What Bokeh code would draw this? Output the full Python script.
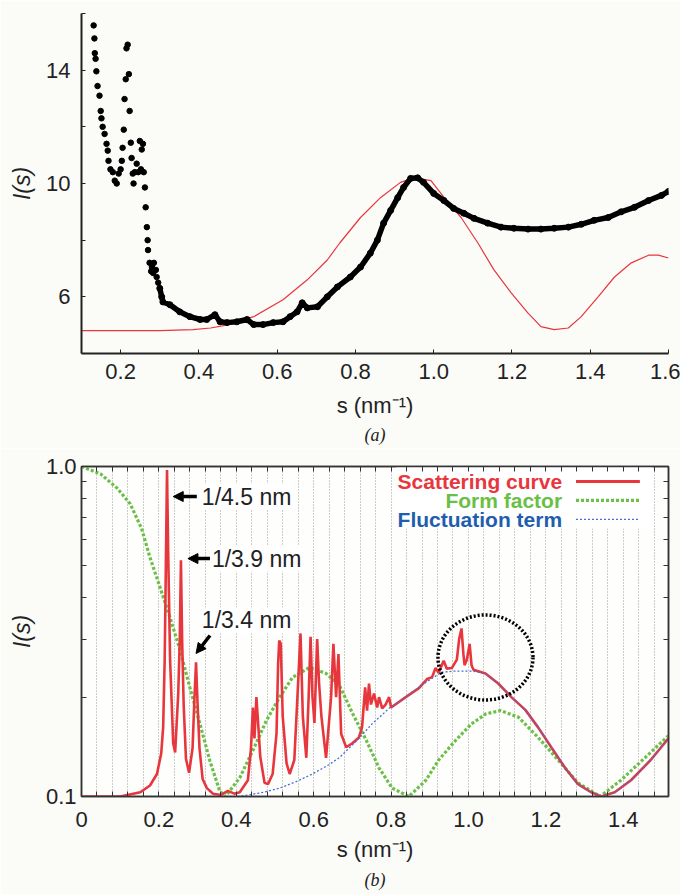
import math
from bokeh.plotting import figure
from bokeh.layouts import column
from bokeh.models import (Range1d, FixedTicker, CustomJSTickFormatter, LinearAxis, LogAxis,
                          Label, Arrow, NormalHead, Title)
from bokeh.embed import file_html
from bokeh.resources import INLINE

# ---------------- panel (a) data ----------------
exp_sparse_s = [0.131, 0.133, 0.134, 0.136, 0.138, 0.141, 0.146, 0.149, 0.151, 0.154, 0.159, 0.164,
                0.167, 0.169, 0.174, 0.18, 0.185, 0.19, 0.195, 0.2, 0.203, 0.205, 0.208, 0.21, 0.213,
                0.215, 0.218, 0.221, 0.223, 0.226, 0.228, 0.231, 0.233, 0.236, 0.241, 0.245, 0.249,
                0.252, 0.254, 0.257, 0.259, 0.262, 0.264, 0.267, 0.269, 0.27, 0.274, 0.278, 0.28,
                0.283, 0.285, 0.29, 0.292, 0.296]
exp_sparse_I = [15.58, 15.12, 14.6, 14.4, 13.96, 13.44, 13.1, 12.56, 12.3, 12.0, 11.75, 11.4,
                11.16, 10.8, 10.5, 10.4, 10.1, 10.0, 10.35, 10.5, 10.8, 11.26, 11.9, 12.98, 13.68,
                14.77, 14.9, 13.86, 12.56, 11.44, 10.9, 10.35, 10.0, 10.4, 10.7, 10.4, 11.5,
                10.5, 11.2, 11.4, 10.4, 9.86, 9.16, 8.46, 8.0, 7.65, 7.2, 6.9, 7.05,
                6.84, 7.2, 6.95, 6.7, 6.5]
exp_dense_s = [0.3, 0.305, 0.308, 0.326, 0.351, 0.377, 0.403, 0.42, 0.441, 0.454, 0.472, 0.497,
               0.523, 0.54, 0.564, 0.59, 0.615, 0.633, 0.651, 0.664, 0.677, 0.703, 0.728, 0.754,
               0.787, 0.813, 0.838, 0.856, 0.872, 0.89, 0.908, 0.923, 0.941, 0.959, 0.974, 1.0,
               1.026, 1.051, 1.077, 1.103, 1.138, 1.172, 1.205, 1.241, 1.274, 1.308, 1.344, 1.377,
               1.41, 1.446, 1.479, 1.513, 1.549, 1.582, 1.6]
exp_dense_I = [6.3, 6.0, 5.82, 5.72, 5.47, 5.3, 5.2, 5.2, 5.37, 5.12, 5.09, 5.12,
               5.2, 5.02, 5.02, 5.09, 5.12, 5.3, 5.47, 5.79, 5.61, 5.65, 6.0, 6.35,
               6.7, 7.05, 7.54, 8.0, 8.6, 9.05, 9.5, 9.86, 10.18, 10.2, 10.04, 9.65,
               9.4, 9.12, 8.95, 8.77, 8.6, 8.46, 8.42, 8.39, 8.39, 8.42, 8.46, 8.56,
               8.7, 8.8, 9.0, 9.16, 9.4, 9.58, 9.72]
fit_a_s = [0.1, 0.2, 0.3, 0.385, 0.43, 0.47, 0.54, 0.615, 0.677, 0.728, 0.76, 0.813, 0.864, 0.915,
           0.95, 0.993, 1.027, 1.07, 1.113, 1.154, 1.198, 1.24, 1.274, 1.308, 1.344, 1.377, 1.42,
           1.462, 1.505, 1.549, 1.574, 1.6]
fit_a_I = [4.81, 4.81, 4.81, 4.84, 4.9, 5.0, 5.3, 5.9, 6.6, 7.3, 7.9, 8.8, 9.5, 10.04,
           10.2, 10.1, 9.5, 8.8, 7.9, 6.95, 6.14, 5.44, 4.95, 4.84, 4.9, 5.3, 6.0,
           6.7, 7.2, 7.47, 7.47, 7.37]
a_x_ticks = [0.2, 0.4, 0.6, 0.8, 1.0, 1.2, 1.4, 1.6]
a_y_ticks = [6, 10, 14]
a_y_minor = [4, 8, 12, 16]

# ---------------- panel (b) data ----------------
scat_s = [0, 0.1, 0.152, 0.177, 0.195, 0.206, 0.211, 0.215, 0.218, 0.221, 0.224, 0.229, 0.237,
          0.242, 0.25, 0.254, 0.257, 0.26, 0.264, 0.27, 0.278, 0.287, 0.292, 0.296, 0.3, 0.305,
          0.313, 0.324, 0.34, 0.36, 0.378, 0.395, 0.409, 0.43, 0.438, 0.443, 0.447, 0.452, 0.456,
          0.462, 0.473, 0.482, 0.494, 0.504, 0.508, 0.511, 0.515, 0.52, 0.53, 0.538, 0.55, 0.558,
          0.566, 0.572, 0.581, 0.587, 0.592, 0.597, 0.602, 0.609, 0.614, 0.62, 0.632, 0.645,
          0.651, 0.658, 0.664, 0.671, 0.684, 0.70, 0.717, 0.725, 0.733, 0.738, 0.743, 0.748,
          0.756, 0.764, 0.769, 0.777, 0.786, 0.795, 0.8, 0.838, 0.872, 0.893, 0.906, 0.915, 0.923,
          0.936, 0.944, 0.957, 0.97, 0.976, 0.982, 0.987, 0.99, 0.996, 1.003, 1.008, 1.013, 1.044,
          1.077, 1.111, 1.147, 1.18, 1.214, 1.25, 1.283, 1.317, 1.343, 1.378, 1.42, 1.471, 1.517]
scat_I = [0.1, 0.1, 0.103, 0.108, 0.117, 0.135, 0.162, 0.26, 0.5, 0.975, 0.55, 0.258, 0.145,
          0.136, 0.205, 0.3, 0.52, 0.3, 0.19, 0.13, 0.118, 0.14, 0.2, 0.255, 0.19, 0.14,
          0.113, 0.106, 0.102, 0.101, 0.104, 0.102, 0.103, 0.112, 0.14, 0.186, 0.15, 0.2, 0.17,
          0.132, 0.11, 0.109, 0.117, 0.155, 0.25, 0.297, 0.29, 0.175, 0.126, 0.117, 0.129, 0.2,
          0.312, 0.175, 0.131, 0.2, 0.305, 0.2, 0.167, 0.30, 0.22, 0.175, 0.131, 0.2,
          0.29, 0.2, 0.27, 0.155, 0.141, 0.145, 0.151, 0.162, 0.214, 0.182, 0.22, 0.19,
          0.205, 0.186, 0.2, 0.185, 0.19, 0.2, 0.186, 0.2, 0.213, 0.227, 0.23, 0.245, 0.237,
          0.258, 0.244, 0.245, 0.26, 0.3, 0.323, 0.27, 0.25, 0.26, 0.29, 0.25, 0.242, 0.236,
          0.22, 0.2, 0.183, 0.162, 0.141, 0.122, 0.109, 0.103, 0.1, 0.103, 0.112, 0.129, 0.15]
form_s = [0, 0.049, 0.092, 0.126, 0.155, 0.177, 0.203, 0.229, 0.255, 0.28, 0.306, 0.332, 0.357,
          0.372, 0.409, 0.443, 0.478, 0.512, 0.546, 0.589, 0.632, 0.666, 0.70, 0.736, 0.769,
          0.803, 0.846, 0.89, 0.923, 0.967, 1.008, 1.045, 1.083, 1.129, 1.18, 1.232, 1.283,
          1.34, 1.394, 1.456, 1.517]
form_I = [1.0, 0.95, 0.86, 0.77, 0.65, 0.53, 0.43, 0.348, 0.277, 0.214, 0.166, 0.128, 0.104,
          0.1, 0.114, 0.138, 0.17, 0.2, 0.23, 0.246, 0.236, 0.218, 0.179, 0.148, 0.122,
          0.106, 0.1, 0.112, 0.129, 0.148, 0.166, 0.178, 0.182, 0.174, 0.151, 0.129, 0.11,
          0.1, 0.112, 0.131, 0.153]
fluct_s = [0, 0.4, 0.43, 0.47, 0.512, 0.555, 0.597, 0.64, 0.666, 0.717, 0.751, 0.795, 0.838,
           0.88, 0.931, 0.967, 1.01, 1.044, 1.077, 1.111, 1.147, 1.18, 1.214, 1.25, 1.283, 1.317,
           1.343, 1.378, 1.42, 1.471, 1.517]
fluct_I = [0.1, 0.1, 0.101, 0.103, 0.106, 0.111, 0.117, 0.125, 0.131, 0.15, 0.166, 0.185, 0.2,
           0.218, 0.238, 0.24, 0.24, 0.236, 0.22, 0.2, 0.183, 0.162, 0.141, 0.122, 0.109, 0.103,
           0.1, 0.103, 0.112, 0.129, 0.15]
b_x_ticks = [0, 0.2, 0.4, 0.6, 0.8, 1.0, 1.2, 1.4]
b_y_ticks = [0.1, 1.0]
b_y_minor = [0.2, 0.3, 0.4, 0.5, 0.6, 0.7, 0.8, 0.9]
legend_names = ["Scattering curve", "Form factor", "Fluctuation term"]
peak_labels = ["1/4.5 nm", "1/3.9 nm", "1/3.4 nm"]
x_title = "s (nm\u207b\u00b9)"
y_title = "I(s)"

# annotation placement (data coordinates)
peak_arrow_x0 = [0.298, 0.332, 0.332]
peak_arrow_x1 = [0.237, 0.275, 0.296]
peak_arrow_y0 = [0.811, 0.526, 0.3075]
peak_arrow_y1 = [0.811, 0.526, 0.2713]
peak_text_x = [0.311, 0.337, 0.311]
peak_text_y = [0.811, 0.526, 0.3415]
legend_text_x = 1.242
legend_y = [0.9005, 0.789, 0.691]
legend_line_x = [1.278, 1.443]
legend_box = dict(left=0.813, right=1.476, bottom=0.649, top=1.0)
circle_s, circle_I = 1.044, 0.2638

FONT = "Liberation Sans"
SERIF = "Liberation Serif"
RED = "#e8363d"
GREEN = "#6bbf47"
BLUE = "#4a6fd0"
LEG_BLUE = "#1f5eae"
BG = "#fbfbf8"
INK = "#222222"


def style_title_axis(ax, label, italic, standoff, size):
    ax.axis_label = label
    ax.axis_label_text_font = FONT
    ax.axis_label_text_font_size = size
    ax.axis_label_text_font_style = "italic" if italic else "normal"
    ax.axis_label_text_color = INK
    ax.axis_label_standoff = standoff


# ======================= panel (a) =======================
p1 = figure(width=680, height=448, output_backend="svg", toolbar_location=None,
            x_range=Range1d(0.1, 1.6), y_range=Range1d(4, 16),
            min_border_left=81, min_border_right=12, min_border_top=13, min_border_bottom=95,
            background_fill_color=BG, border_fill_color=BG, outline_line_color=None)
p1.grid.visible = False
a_xaxis = p1.below[0]
a_yaxis = p1.left[0]
a_xaxis.ticker = FixedTicker(ticks=a_x_ticks)
a_xaxis.formatter = CustomJSTickFormatter(code="return tick.toFixed(1);")
a_yaxis.ticker = FixedTicker(ticks=a_y_ticks, minor_ticks=a_y_minor)
for ax in (a_xaxis, a_yaxis):
    ax.axis_line_color = INK
    ax.axis_line_width = 2
    ax.major_tick_line_color = INK
    ax.minor_tick_line_color = INK
    ax.major_tick_in = 4
    ax.major_tick_out = 0
    ax.minor_tick_in = 4
    ax.minor_tick_out = 0
    ax.major_label_text_font = FONT
    ax.major_label_text_font_size = "22px"
    ax.major_label_text_color = INK
a_xaxis.minor_tick_line_color = None
a_xaxis.major_label_standoff = 10
a_yaxis.major_label_standoff = 11
style_title_axis(a_xaxis, x_title, False, 11, "22px")
style_title_axis(a_yaxis, y_title, True, 8, "23px")
p1.add_layout(Title(text="(a)", align="center", text_font=SERIF, text_font_size="18px",
                    text_font_style="italic", text_color=INK, standoff=4), "below")

p1.line(fit_a_s, fit_a_I, line_color=RED, line_width=1.2)
p1.line(exp_dense_s, exp_dense_I, line_color="black", line_width=5.5)
p1.scatter(exp_dense_s, exp_dense_I, size=6, color="black")
p1.scatter(exp_sparse_s, exp_sparse_I, size=5.5, color="black")

# ======================= panel (b) =======================
p2 = figure(width=680, height=446, output_backend="svg", toolbar_location=None,
            y_axis_type="log", x_range=Range1d(0, 1.517), y_range=Range1d(0.1, 1.0),
            min_border_left=81, min_border_right=9, min_border_top=18, min_border_bottom=98,
            background_fill_color="#fefefd", border_fill_color=BG,
            outline_line_color="#333333", outline_line_width=1.5)

b_x_minor = [round(0.04 * k, 2) for k in range(1, 38) if k % 5 != 0]
bx_ticker = FixedTicker(ticks=b_x_ticks, minor_ticks=b_x_minor)
by_ticker = FixedTicker(ticks=b_y_ticks, minor_ticks=b_y_minor)
b_xaxis = p2.below[0]
b_yaxis = p2.left[0]
b_xaxis.ticker = bx_ticker
b_xaxis.formatter = CustomJSTickFormatter(code="return Math.abs(tick) < 1e-9 ? '0' : tick.toFixed(1);")
b_yaxis.ticker = by_ticker
b_yaxis.formatter = CustomJSTickFormatter(code="return tick > 0.5 ? '1.0' : '0.1';")

top_axis = LinearAxis(ticker=bx_ticker, formatter=CustomJSTickFormatter(code="return '';"))
right_axis = LogAxis(ticker=by_ticker, formatter=CustomJSTickFormatter(code="return '';"))
p2.add_layout(top_axis, "above")
p2.add_layout(right_axis, "right")

for ax in (b_xaxis, b_yaxis, top_axis, right_axis):
    ax.axis_line_color = "#333333"
    ax.axis_line_width = 1.5
    ax.major_tick_line_color = "#333333"
    ax.minor_tick_line_color = "#333333"
    ax.major_tick_in = 5
    ax.major_tick_out = 0
    ax.minor_tick_in = 5
    ax.minor_tick_out = 0
    ax.major_label_text_font = FONT
    ax.major_label_text_font_size = "22px"
    ax.major_label_text_color = INK
for ax in (top_axis, right_axis):
    ax.major_label_text_font_size = "1px"
    ax.major_label_standoff = 0
b_xaxis.major_label_standoff = 15
b_yaxis.major_label_standoff = 5
style_title_axis(b_xaxis, x_title, False, 7, "22px")
style_title_axis(b_yaxis, y_title, True, 8, "23px")
p2.add_layout(Title(text="(b)", align="center", text_font=SERIF, text_font_size="18px",
                    text_font_style="italic", text_color=INK, standoff=6), "below")

p2.ygrid.visible = False
for g in p2.xgrid:
    g.ticker = bx_ticker
    g.grid_line_color = "#9c9c9c"
    g.grid_line_dash = "1 2"
    g.grid_line_width = 1
    g.minor_grid_line_color = "#9c9c9c"
    g.minor_grid_line_dash = "1 2"
    g.minor_grid_line_width = 1

# legend background box
p2.quad(left=[legend_box["left"]], right=[legend_box["right"]], bottom=[legend_box["bottom"]],
        top=[legend_box["top"]], fill_color="white", line_color=None)

p2.line(form_s, form_I, line_color=GREEN, line_width=3.2, line_dash="3 2")
p2.line(scat_s, scat_I, line_color=RED, line_width=2.6)
p2.line(fluct_s, fluct_I, line_color=BLUE, line_width=1.3, line_dash="2 2")

p2.ellipse(x=[circle_s], y=[circle_I], width=95, height=85, width_units="screen",
           height_units="screen", fill_color=None, line_color="black", line_width=3.5,
           line_dash="2 2")

# legend (text right-aligned, sample line on the right)
leg_colors = [RED, GREEN, LEG_BLUE]
leg_line_colors = [RED, GREEN, BLUE]
leg_widths = [3, 3.2, 1.3]
leg_dash = ["solid", "3 2", "2 2"]
for i, name in enumerate(legend_names):
    p2.add_layout(Label(x=legend_text_x, y=legend_y[i], text=name, text_align="right",
                        text_baseline="middle", text_font=FONT, text_font_size="21px",
                        text_font_style="bold", text_color=leg_colors[i]))
    p2.line(legend_line_x, [legend_y[i], legend_y[i]], line_color=leg_line_colors[i],
            line_width=leg_widths[i], line_dash=leg_dash[i])

# peak annotations
for i, t in enumerate(peak_labels):
    p2.add_layout(Label(x=peak_text_x[i], y=peak_text_y[i], text=t, text_align="left",
                        text_baseline="middle", text_font=FONT, text_font_size="23px",
                        text_color=INK, background_fill_color="white"))
    p2.add_layout(Arrow(end=NormalHead(size=10, fill_color="black", line_color="black"),
                        x_start=peak_arrow_x0[i], y_start=peak_arrow_y0[i],
                        x_end=peak_arrow_x1[i], y_end=peak_arrow_y1[i],
                        line_color="black", line_width=3.5))

layout = column(p1, p2, spacing=0)
open("out.html", "w").write(file_html(layout, INLINE))
